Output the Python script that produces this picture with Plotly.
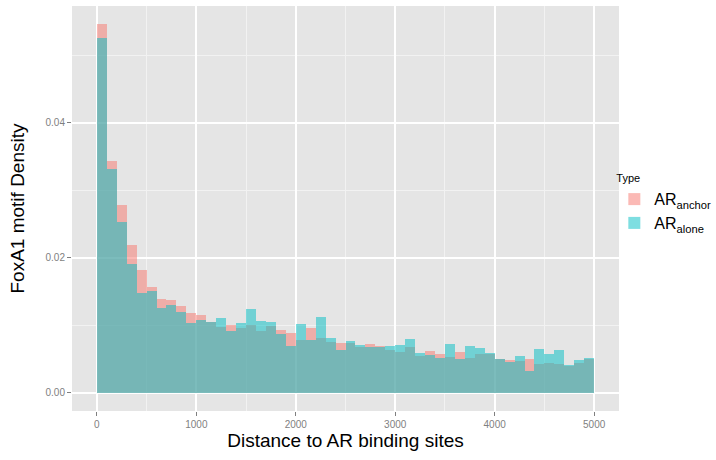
import plotly.graph_objects as go

# Histogram bins (left edges) and bin width
bin_left = list(range(0, 5000, 100))
bin_width = 100

anchor = [0.0546, 0.0343, 0.0278, 0.0219, 0.0182, 0.01565, 0.01388, 0.01373, 0.01284, 0.0118,
          0.0115, 0.01047, 0.00978, 0.01002, 0.00958, 0.01002, 0.00914, 0.00988, 0.00928, 0.00884,
          0.0078, 0.00958, 0.0081, 0.0075, 0.00736, 0.00731, 0.00677, 0.00721, 0.00691, 0.00632,
          0.00602, 0.00677, 0.00543, 0.00617, 0.00573, 0.00528, 0.00602, 0.00514, 0.00573, 0.00573,
          0.00494, 0.00484, 0.00469, 0.00499, 0.00425, 0.0044, 0.00425, 0.00395, 0.0044, 0.00499]
alone = [0.0526, 0.0331, 0.0253, 0.0191, 0.0148, 0.01506, 0.01259, 0.01299, 0.01195, 0.01032,
         0.01077, 0.0105, 0.01106, 0.00914, 0.01032, 0.01239, 0.01062, 0.01047, 0.00869, 0.00691,
         0.01017, 0.0078, 0.01121, 0.0081, 0.00632, 0.00765, 0.00706, 0.00677, 0.00677, 0.00691,
         0.00706, 0.00795, 0.00588, 0.00558, 0.00514, 0.00721, 0.00499, 0.00691, 0.00662, 0.00588,
         0.00504, 0.00454, 0.00543, 0.00321, 0.00647, 0.00573, 0.00632, 0.0041, 0.00484, 0.00514]

series_names = ["AR<sub>anchor</sub>", "AR<sub>alone</sub>"]
series_colors = ["#F8766D", "#00BFC4"]

x_ticks = [0, 1000, 2000, 3000, 4000, 5000]
y_ticks = [0.0, 0.02, 0.04]
y_tick_text = ["0.00", "0.02", "0.04"]

fig = go.Figure()
for name, vals, col in zip(series_names, [anchor, alone], series_colors):
    fig.add_trace(go.Bar(
        x=bin_left, y=vals, width=bin_width, offset=0,
        name=name, marker=dict(color=col, line=dict(width=0)), opacity=0.5,
    ))

fig.update_layout(
    width=716, height=460,
    barmode="overlay", bargap=0,
    paper_bgcolor="white", plot_bgcolor="#E5E5E5",
    margin=dict(l=72, r=97, t=6, b=49, autoexpand=False),
    font=dict(family="Liberation Sans, Arial, sans-serif"),
    legend=dict(
        title=dict(text="Type", font=dict(size=11, color="black")),
        font=dict(size=16, color="black"),
        xref="container", yref="container",
        x=0.858, xanchor="left", y=0.635, yanchor="top",
        bgcolor="rgba(0,0,0,0)", tracegroupgap=2, itemwidth=30,
    ),
    xaxis=dict(
        range=[-250, 5250], tickvals=x_ticks, automargin=False,
        showgrid=True, gridcolor="white", gridwidth=1.6,
        minor=dict(dtick=500, tick0=0, showgrid=True, gridcolor="#F2F2F2", gridwidth=0.8),
        ticks="outside", ticklen=4, tickcolor="#7F7F7F", tickwidth=1.2,
        tickfont=dict(size=10, color="#7F7F7F"),
        zeroline=False, showline=False,
        title=dict(text="Distance to AR binding sites", font=dict(size=19, color="black"), standoff=4),
    ),
    yaxis=dict(
        range=[-0.00273, 0.05733], tickvals=y_ticks, ticktext=y_tick_text, automargin=False,
        showgrid=True, gridcolor="white", gridwidth=1.6,
        minor=dict(dtick=0.01, tick0=0, showgrid=True, gridcolor="#F2F2F2", gridwidth=0.8),
        ticks="outside", ticklen=4, tickcolor="#7F7F7F", tickwidth=1.2,
        tickfont=dict(size=10, color="#7F7F7F"),
        zeroline=False, showline=False,
        title=dict(text="FoxA1 motif Density", font=dict(size=19, color="black"), standoff=15),
    ),
)

fig.write_html("out.html", config={"displayModeBar": False},
               post_script="document.body.style.margin='0px';")
